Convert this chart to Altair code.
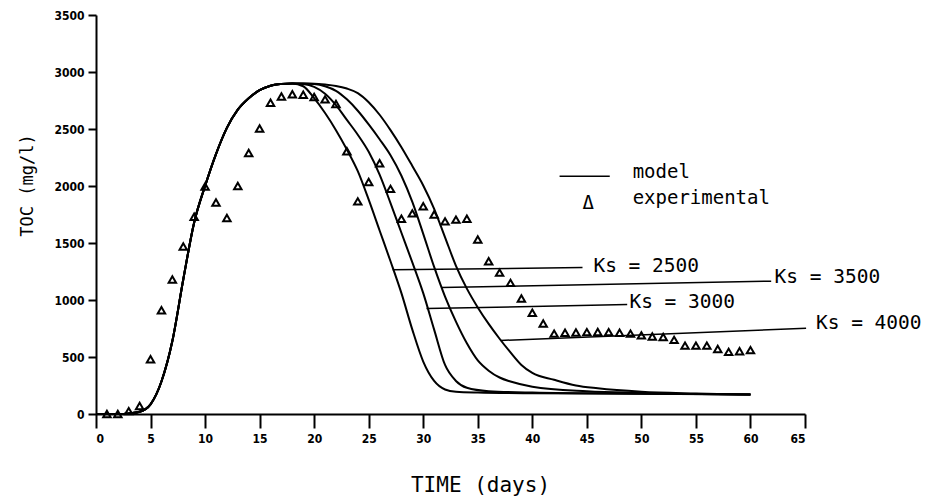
import altair as alt
import pandas as pd

# ---------------- data ----------------
x_ticks = [0, 5, 10, 15, 20, 25, 30, 35, 40, 45, 50, 55, 60, 65]
y_ticks = [0, 500, 1000, 1500, 2000, 2500, 3000, 3500]

# common rising part of the model curves
rise_days = [0, 1, 2, 3, 4, 5, 6, 7, 8, 9, 10, 11, 12, 13, 14, 15, 16, 17, 18]
rise_toc = [0, 0, 0, 5, 20, 85, 285, 640, 1180, 1680, 2000, 2280, 2510, 2670, 2770, 2840, 2880, 2895, 2900]

ks_names = ["Ks = 2500", "Ks = 3000", "Ks = 3500", "Ks = 4000"]

ks2500_days = [19, 20, 21, 22, 23, 24, 25, 26, 27, 28, 29, 30, 31, 32, 33, 35, 40, 50, 60]
ks2500_toc = [2875, 2770, 2640, 2490, 2320, 2130, 1880, 1610, 1340, 1060, 740, 460, 290, 215, 195, 188, 182, 178, 172]

ks3000_days = [19, 20, 21, 22, 23, 24, 25, 26, 27, 28, 29, 30, 31, 32, 33, 34, 36, 40, 50, 60]
ks3000_toc = [2895, 2870, 2810, 2710, 2580, 2450, 2300, 2100, 1850, 1590, 1330, 1060, 740, 430, 290, 230, 200, 188, 178, 172]

ks3500_days = [19, 20, 21, 22, 23, 24, 25, 26, 27, 28, 29, 30, 31, 32, 33, 34, 35, 36, 37, 38, 40, 45, 50, 60]
ks3500_toc = [2900, 2895, 2875, 2835, 2760, 2660, 2540, 2410, 2270, 2090, 1860, 1580, 1290, 1030, 810, 620, 470, 380, 320, 285, 240, 200, 185, 172]

ks4000_days = [19, 20, 21, 22, 23, 24, 25, 26, 27, 28, 29, 30, 31, 32, 33, 34, 35, 36, 37, 38, 39, 40, 42, 44, 46, 50, 55, 60]
ks4000_toc = [2900, 2898, 2890, 2878, 2855, 2815, 2735, 2625, 2490, 2340, 2175, 2005, 1800, 1550, 1300, 1100, 935, 790, 660, 540, 430, 360, 300, 250, 225, 195, 180, 170]

# experimental points (triangles)
exp_days = list(range(1, 61))
exp_toc = [0, 0, 25, 70, 480, 910, 1180, 1470, 1730, 1995,
           1855, 1720, 2000, 2290, 2505, 2730, 2785, 2805, 2800, 2780,
           2760, 2720, 2305, 1865, 2035, 2200, 1975, 1712, 1760, 1823,
           1750, 1690, 1705, 1712, 1530, 1340, 1240, 1150, 1013, 888,
           794, 705, 712, 715, 718, 720, 718, 712, 705, 690,
           680, 675, 650, 600, 600, 600, 570, 545, 550, 560]

# leader lines for the Ks labels
lead_x1 = [27.2, 30.3, 31.65, 37.1]
lead_y1 = [1265, 925, 1110, 645]
lead_x2 = [44.6, 48.7, 61.9, 65.1]
lead_y2 = [1285, 960, 1165, 752]
label_x = [45.6, 48.9, 62.2, 66.0]
label_y = [1300, 985, 1200, 800]

# legend
legend_line_x = [42.5, 47.1]
legend_line_y = 2086
legend_texts = ["model", "\u0394", "experimental"]
legend_tx = [49.2, 44.6, 49.2]
legend_ty = [2127, 1855, 1899]

# ---------------- build tables ----------------
curve_rows = []
for name, d, v in zip(ks_names,
                      [ks2500_days, ks3000_days, ks3500_days, ks4000_days],
                      [ks2500_toc, ks3000_toc, ks3500_toc, ks4000_toc]):
    for dd, vv in zip(rise_days + d, rise_toc + v):
        curve_rows.append({"curve": name, "day": dd, "toc": vv})
curve_df = pd.DataFrame(curve_rows)
exp_df = pd.DataFrame({"day": exp_days, "toc": exp_toc})
lead_df = pd.DataFrame({"x1": lead_x1, "y1": lead_y1, "x2": lead_x2, "y2": lead_y2,
                        "lx": label_x, "ly": label_y, "name": ks_names})
leg_line_df = pd.DataFrame({"x1": [legend_line_x[0]], "x2": [legend_line_x[1]], "y": [legend_line_y]})
leg_text_df = pd.DataFrame({"x": legend_tx, "y": legend_ty, "t": legend_texts})

MONO = "DejaVu Sans Mono"
TICKFONT = "DejaVu Sans Condensed, Liberation Sans Narrow, DejaVu Sans"

xs = alt.Scale(domain=[0, 65], nice=False, zero=False)
ys = alt.Scale(domain=[0, 3500], nice=False)

x_axis = alt.Axis(values=x_ticks, format="d", title="TIME (days)", grid=False, tickSize=14, tickWidth=2,
                  tickColor="black", domainColor="black", domainWidth=2,
                  labelFont=TICKFONT, labelFontSize=12, labelFontWeight="bold", labelColor="black",
                  labelPadding=5, titleFont=MONO, titleFontSize=21, titleFontWeight="normal",
                  titleColor="black", titleX=384, titleY=71, titleAlign="center",
                  titleBaseline="middle")
y_axis = alt.Axis(values=y_ticks, format="d", title="TOC (mg/l)", grid=False, tickSize=8, tickWidth=2,
                  tickColor="black", domainColor="black", domainWidth=2,
                  labelFont=TICKFONT, labelFontSize=12, labelFontWeight="bold", labelColor="black",
                  labelPadding=4, titleFont=MONO, titleFontSize=17, titleFontWeight="normal",
                  titleColor="black", titleX=-69, titleY=170, titleAngle=270, titleAlign="center",
                  titleBaseline="middle")

curves = alt.Chart(curve_df).mark_line(color="black", strokeWidth=2, interpolate="monotone").encode(
    x=alt.X("day:Q", scale=xs, axis=x_axis),
    y=alt.Y("toc:Q", scale=ys, axis=y_axis),
    detail="curve:N",
)

points = alt.Chart(exp_df).mark_point(shape="triangle-up", filled=False, color="black",
                                      size=55, strokeWidth=2, opacity=1).encode(
    x=alt.X("day:Q", scale=xs, axis=x_axis),
    y=alt.Y("toc:Q", scale=ys, axis=y_axis),
)

leaders = alt.Chart(lead_df).mark_rule(color="black", strokeWidth=1.5).encode(
    x=alt.X("x1:Q", scale=xs, axis=x_axis),
    y=alt.Y("y1:Q", scale=ys, axis=y_axis),
    x2="x2:Q",
    y2="y2:Q",
)

labels = alt.Chart(lead_df).mark_text(align="left", baseline="middle", font=MONO,
                                      fontSize=19.5, color="black").encode(
    x=alt.X("lx:Q", scale=xs, axis=x_axis),
    y=alt.Y("ly:Q", scale=ys, axis=y_axis),
    text="name:N",
)

leg_line = alt.Chart(leg_line_df).mark_rule(color="black", strokeWidth=1.5).encode(
    x=alt.X("x1:Q", scale=xs, axis=x_axis),
    x2="x2:Q",
    y=alt.Y("y:Q", scale=ys, axis=y_axis),
)

leg_text = alt.Chart(leg_text_df).mark_text(align="left", baseline="middle", font=MONO,
                                            fontSize=19, color="black").encode(
    x=alt.X("x:Q", scale=xs, axis=x_axis),
    y=alt.Y("y:Q", scale=ys, axis=y_axis),
    text="t:N",
)

chart = alt.layer(curves, points, leaders, labels, leg_line, leg_text).properties(
    width=709, height=399,
    padding={"left": 88, "top": 7, "right": 123, "bottom": 82},
    autosize=alt.AutoSizeParams(type="none"),
    background="white",
).configure_view(stroke=None)

chart.save("out.html", embed_options={"renderer": "svg", "actions": False})
